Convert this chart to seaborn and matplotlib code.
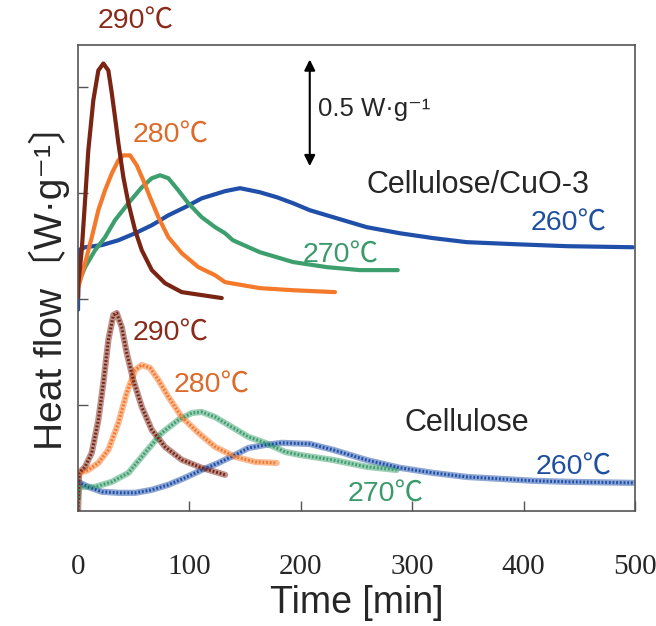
import numpy as np
import pandas as pd
import matplotlib
matplotlib.use('Agg')
import matplotlib.pyplot as plt
import seaborn as sns

# Cellulose/CuO-3 (upper traces), time [min] and heat flow (offset units, 0.5 per tick)
cuo_290_t = [0, 0.3, 3.3, 6.3, 9.2, 13.7, 18.2, 22.7, 27.2, 30.3, 33.2, 36.2, 40.7, 45.2, 51.2, 57.2,
             66.2, 78.1, 93.1, 111, 129]
cuo_290_y = [1.01, 1.075, 1.231, 1.467, 1.703, 1.939, 2.08, 2.113, 2.08, 1.972, 1.858, 1.736, 1.575, 1.453,
             1.325, 1.231, 1.137, 1.075, 1.033, 1.019, 1.005]
cuo_280_t = [0.3, 6.3, 12.3, 18.2, 24.2, 30.3, 36.2, 40.7, 46.7, 52.7, 58.6, 64.6, 72.1, 81.1, 93.1, 108,
             123, 132, 163, 193, 230.7]
cuo_280_y = [1.057, 1.17, 1.292, 1.42, 1.514, 1.594, 1.656, 1.679, 1.679, 1.632, 1.561, 1.481, 1.387, 1.292,
             1.217, 1.151, 1.113, 1.08, 1.052, 1.042, 1.033]
cuo_270_t = [0.3, 6.3, 15.3, 24.2, 33.2, 45.2, 57.2, 66.2, 73.6, 81.1, 90, 99, 111, 123, 132, 139, 163,
             193, 223.5, 253, 287]
cuo_270_y = [1.075, 1.151, 1.231, 1.292, 1.373, 1.453, 1.528, 1.571, 1.585, 1.571, 1.514, 1.453, 1.387,
             1.34, 1.311, 1.278, 1.222, 1.175, 1.151, 1.137, 1.137]
cuo_260_t = [0, 0.3, 6.3, 21.3, 36.2, 51.2, 66.2, 81.1, 96, 111, 132, 145.4, 163, 178.6, 193, 208,
             229, 259, 289, 319, 349, 394, 439, 498]
cuo_260_y = [0.95, 1.231, 1.245, 1.255, 1.278, 1.311, 1.349, 1.396, 1.434, 1.476, 1.51, 1.524, 1.505, 1.481,
             1.453, 1.42, 1.387, 1.34, 1.311, 1.288, 1.269, 1.259, 1.25, 1.245]

# Cellulose (lower traces)
cel_290_t = [0, 0.9, 6.3, 12.3, 18.2, 22.7, 27.2, 31.7, 34.7, 39.2, 43.7, 49.6, 57.2, 66.2, 78.1, 93.1,
             111, 132]
cel_290_y = [0, 0.179, 0.208, 0.274, 0.429, 0.604, 0.807, 0.925, 0.934, 0.868, 0.745, 0.618, 0.491, 0.382,
             0.302, 0.241, 0.203, 0.17]
cel_280_t = [0, 1.8, 9.2, 18.2, 27.2, 36.2, 43.7, 51.2, 57.2, 64.6, 72.1, 81.1, 93.1, 108, 123, 141, 159,
             178.4]
cel_280_y = [0.16, 0.179, 0.193, 0.226, 0.288, 0.415, 0.557, 0.665, 0.689, 0.675, 0.618, 0.538, 0.443,
             0.368, 0.302, 0.255, 0.231, 0.226]
cel_270_t = [0, 0.5, 15.3, 30.3, 45.2, 60.1, 75.1, 90, 102, 111, 123, 138, 153, 168, 186, 199, 229, 259, 286]
cel_270_y = [0.06, 0.113, 0.113, 0.137, 0.179, 0.274, 0.368, 0.429, 0.462, 0.467, 0.443, 0.396, 0.349,
             0.321, 0.278, 0.264, 0.24, 0.208, 0.193]
cel_260_t = [0, 9.2, 21.3, 36.2, 51.2, 66.2, 81.1, 96, 111, 126, 141, 153, 168, 183, 208, 229, 259, 289,
             319, 349, 379, 408, 439, 498]
cel_260_y = [0.137, 0.113, 0.09, 0.085, 0.085, 0.099, 0.123, 0.156, 0.193, 0.226, 0.264, 0.297, 0.311,
             0.321, 0.316, 0.288, 0.24, 0.203, 0.179, 0.16, 0.151, 0.142, 0.137, 0.132]

line_colors = {'290': '#7a2414', '280': '#f5792a', '270': '#3d9f6e', '260': '#1f4fa8'}
text_colors = {'290': '#8a2a1a', '280': '#dc6a2a', '270': '#3a9a6a', '260': '#1f4f9f'}


def to_frame(series):
    rows = []
    for temp, t, y in series:
        rows += [{'temp': temp, 'time': a, 'flow': b} for a, b in zip(t, y)]
    return pd.DataFrame(rows)


upper = to_frame([('290', cuo_290_t, cuo_290_y), ('280', cuo_280_t, cuo_280_y),
                  ('270', cuo_270_t, cuo_270_y), ('260', cuo_260_t, cuo_260_y)])
lower = to_frame([('290', cel_290_t, cel_290_y), ('280', cel_280_t, cel_280_y),
                  ('270', cel_270_t, cel_270_y), ('260', cel_260_t, cel_260_y)])

sns.set_style('ticks')
plt.rcParams['font.family'] = ['Liberation Sans', 'Noto Sans CJK JP', 'DejaVu Sans']

fig = plt.figure(figsize=(6.56, 6.26), dpi=100)
ax = fig.add_axes([0.119, 0.184, 0.849, 0.744])

hue_order = ['260', '270', '280', '290']
common = dict(x='time', y='flow', hue='temp', hue_order=hue_order, palette=line_colors,
              units='temp', estimator=None, sort=False, legend=False, ax=ax)
sns.lineplot(data=upper, lw=3, solid_joinstyle='round', solid_capstyle='round', **common)
# noisy-looking lower traces: light thick band + fine dotted core
sns.lineplot(data=lower, lw=4.5, alpha=0.5, solid_joinstyle='round', **common)
sns.lineplot(data=lower, lw=2.2, ls=(0, (0.6, 0.6)), **common)

ax.set_xlim(0, 500)
ax.set_ylim(0, 2.2)
ax.set_xticks([0, 100, 200, 300, 400, 500])
ax.set_yticks([0.5, 1.0, 1.5, 2.0])
ax.set_yticklabels([])
ax.tick_params(direction='in', length=7, width=1, color='#555555')
ax.tick_params(axis='x', pad=31)
for lab in ax.get_xticklabels():
    lab.set_fontfamily('Liberation Serif')
    lab.set_fontsize(21)
for s in ax.spines.values():
    s.set_color('#555555')
    s.set_linewidth(1.2)

ax.set_xlabel('Time [min]', fontsize=27, labelpad=4)
ax.set_ylabel('Heat flow〔W·g⁻¹〕', fontsize=28, labelpad=2)

lab_kw = dict(fontsize=20.5, ha='center', va='center', clip_on=False)
ax.text(52, 2.31, '290℃', color=text_colors['290'], **lab_kw)
ax.text(83, 1.774, '280℃', color=text_colors['280'], **lab_kw)
ax.text(236, 1.205, '270℃', color=text_colors['270'], **lab_kw)
ax.text(440, 1.355, '260℃', color=text_colors['260'], **lab_kw)
ax.text(83, 0.835, '290℃', color=text_colors['290'], **lab_kw)
ax.text(120, 0.59, '280℃', color=text_colors['280'], **lab_kw)
ax.text(276, 0.075, '270℃', color=text_colors['270'], **lab_kw)
ax.text(445, 0.205, '260℃', color=text_colors['260'], **lab_kw)

ax.text(359, 1.538, 'Cellulose/CuO-3', fontsize=22, ha='center', va='center')
ax.text(349, 0.415, 'Cellulose', fontsize=22, ha='center', va='center')

ax.annotate('', xy=(208, 2.145), xytext=(208, 1.615),
            arrowprops=dict(arrowstyle='<|-|>', color='black', lw=1.5, mutation_scale=16))
ax.text(215.5, 1.90, '0.5 W·g⁻¹', fontsize=18.5, ha='left', va='center')

fig.savefig('out.png', dpi=100)
